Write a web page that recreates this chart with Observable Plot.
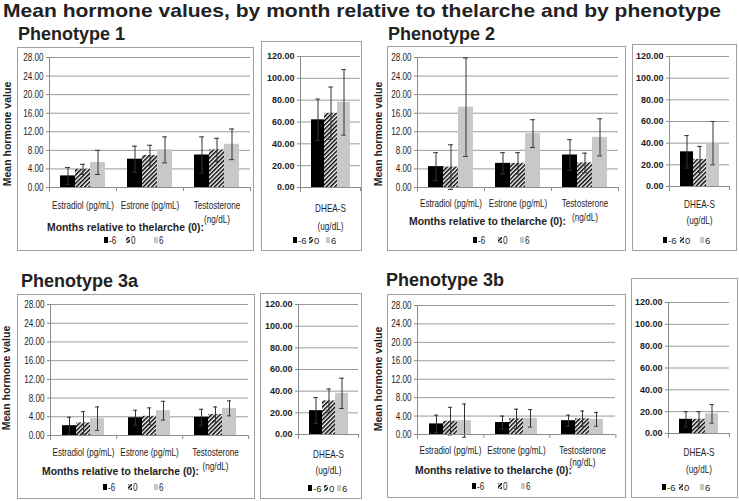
<!DOCTYPE html>
<html><head><meta charset="utf-8">
<script src="https://cdn.jsdelivr.net/npm/d3@7"></script>
<script src="https://cdn.jsdelivr.net/npm/@observablehq/plot@0.6"></script>
<style>
body{margin:0;background:#fff;}
#root{position:relative;width:739px;height:501px;overflow:hidden;background:#fff;}
</style></head><body>
<svg width="0" height="0" style="position:absolute"><defs>
<pattern id="hatch" patternUnits="userSpaceOnUse" width="3" height="3" patternTransform="rotate(45)">
<rect width="3" height="3" fill="#fff"/><rect width="1.5" height="3" fill="#000"/></pattern>
</defs></svg>
<div id="root"></div>
<script>
// ---------- data ----------
const chartTitle = "Mean hormone values, by month relative to thelarche and by phenotype";
const phenotypes = ["Phenotype 1", "Phenotype 2", "Phenotype 3a", "Phenotype 3b"];
const hormones = ["Estradiol (pg/mL)", "Estrone (pg/mL)", "Testosterone\n(ng/dL)"];
const dheaCats = ["DHEA-S\n(ug/dL)"];
const months = ["-6", "0", "6"];
const legendTitle = "Months relative to thelarche (0):";
const yLabel = "Mean hormone value";
const mainTicks = [0, 4, 8, 12, 16, 20, 24, 28];
const dheaTicks = [0, 20, 40, 60, 80, 100, 120];

// rows: hormones; columns: months -6, 0, 6
const p1Means = [[2.5, 3.9, 5.4], [6.1, 6.9, 8.1], [7.0, 8.1, 9.3]];
const p1Errors = [[1.8, 1.1, 2.6], [2.8, 2.2, 2.8], [3.9, 2.5, 3.3]];
const p1DheaMeans = [[62, 68, 78]];
const p1DheaErrors = [[19, 24, 30]];

const p2Means = [[4.5, 4.4, 17.3], [5.2, 5.2, 11.6], [7.0, 5.3, 10.8]];
const p2Errors = [[3.0, 4.8, 10.6], [2.3, 2.3, 3.0], [3.3, 2.1, 4.0]];
const p2DheaMeans = [[32, 25, 40]];
const p2DheaErrors = [[15, 12, 20]];

const p3aMeans = [[2.1, 2.7, 3.6], [3.8, 4.1, 5.3], [3.9, 4.5, 5.8]];
const p3aErrors = [[1.8, 2.4, 2.5], [1.6, 1.8, 2.0], [1.7, 1.6, 1.6]];
const p3aDheaMeans = [[22, 31, 38]];
const p3aDheaErrors = [[12, 11, 14]];

const p3bMeans = [[2.3, 2.9, 3.0], [2.6, 3.4, 3.5], [3.0, 3.4, 3.3]];
const p3bErrors = [[1.9, 3.0, 3.6], [1.4, 2.1, 1.9], [1.2, 1.7, 1.5]];
const p3bDheaMeans = [[13, 13, 18]];
const p3bDheaErrors = [[7, 7, 8.5]];

// ---------- layout (pixel positions, styles) ----------
const sans = '"Liberation Sans",Arial,sans-serif';
const gridC = "#9a9a9a", axisC = "#8c8c8c", boxC = "#a0a0a0", textC = "#1e1e1e";
const fills = ["#000000", "url(#hatch)", "#c8c8c8"];
const narrowFactor = 0.74;

const lay = [
 { title:[18,40], ylab:[7,134],
   box:[17,47,253,250], frame:[49,57,250,187], pad:10.6, lh:1.35,
   leg:{tx:47, ty:231, iy:244, sw:[104,126,154]},
   dbox:[261,41,361,250], dframe:[300,56,360,187], dpad:12.2, dlh:1.6,
   dleg:{iy:244, sw:[293,309,326]} },
 { title:[388,40], ylab:[378,134],
   box:[387,46,625,250], frame:[417,57,618,187], pad:9.2, lh:1.3,
   leg:{tx:409, ty:225, iy:244, sw:[473,498,520]},
   dbox:[632,44,736,250], dframe:[669,56,729,186], dpad:10.2, dlh:1.45,
   dleg:{iy:244, sw:[663,680,700]} },
 { title:[21,287], ylab:[6,378],
   box:[17,294,254,498], frame:[49,304,248,435], pad:10.2, lh:1.3,
   leg:{tx:42, ty:475, iy:491, sw:[103,128,154]},
   dbox:[260,293,361,498], dframe:[298,304,358,434], dpad:12.2, dlh:1.45,
   dleg:{iy:492, sw:[308,324,337]} },
 { title:[386,286], ylab:[378,379],
   box:[387,294,625,497], frame:[416,305,616,434], pad:11.2, lh:1.1,
   leg:{tx:415, ty:474, iy:490, sw:[472,498,521]},
   dbox:[631,278,737,497], dframe:[668,302,729,433], dpad:11.2, dlh:1.5,
   dleg:{iy:491, sw:[662,679,700]} },
];

const panels = [
  {means:p1Means, errs:p1Errors, dMeans:p1DheaMeans, dErrs:p1DheaErrors},
  {means:p2Means, errs:p2Errors, dMeans:p2DheaMeans, dErrs:p2DheaErrors},
  {means:p3aMeans, errs:p3aErrors, dMeans:p3aDheaMeans, dErrs:p3aDheaErrors},
  {means:p3bMeans, errs:p3bErrors, dMeans:p3bDheaMeans, dErrs:p3bDheaErrors},
];

const root = document.getElementById("root");
function place(node, left, top) {
  node.style.position = "absolute"; node.style.left = left + "px"; node.style.top = top + "px";
  root.appendChild(node);
}
// horizontally condense text (the reference uses a narrow face)
function condense(elems, factor) {
  elems.forEach(t => {
    const spans = t.querySelectorAll("tspan");
    const targets = spans.length ? [...spans] : [t];
    targets.forEach(el => {
      const len = el.getComputedTextLength();
      if (len > 0) { el.setAttribute("textLength", len * factor); el.setAttribute("lengthAdjust", "spacingAndGlyphs"); }
    });
  });
}

const padOuter = 0.72;
function chart(cats, means, errs, yDomain, yTicks, fr, pad, lh, opts) {
  const rows = [];
  cats.forEach((c, i) => months.forEach((m, j) => rows.push({c, m, v: means[i][j], e: errs[i][j]})));
  const [x0, y0, x1, y1] = fr;
  const L = x0 - 48, T = y0 - 8, W = x1 + 6 - L, H = y1 + 45 - T;
  const facetW = (x1 - x0) / cats.length;
  const step = facetW / (months.length + 2 * padOuter);
  const capIn = Math.max(0, (step - 5) / 2);
  const plot = Plot.plot({
    width: W, height: H,
    marginLeft: x0 - L, marginTop: y0 - T, marginRight: W - (x1 - L), marginBottom: H - (y1 - T),
    style: {fontFamily: sans, fontSize: "11px", color: textC, background: "transparent", overflow: "visible"},
    fx: {domain: cats, padding: 0, label: null},
    x: {domain: months, paddingInner: 0, paddingOuter: padOuter, axis: null},
    y: {domain: yDomain, label: null},
    color: {type: "ordinal", domain: months, range: fills},
    marks: [
      Plot.gridY(yTicks, {stroke: gridC, strokeOpacity: 1}),
      Plot.barY(rows, {fx: "c", x: "m", y: "v", fill: "m"}),
      Plot.ruleX(rows, {fx: "c", x: "m", y1: d => d.v - d.e, y2: d => d.v + d.e, stroke: "#333"}),
      Plot.tickY(rows, {fx: "c", x: "m", y: d => d.v + d.e, stroke: "#333", insetLeft: capIn, insetRight: capIn}),
      Plot.tickY(rows, {fx: "c", x: "m", y: d => d.v - d.e, stroke: "#333", insetLeft: capIn, insetRight: capIn}),
      Plot.ruleY([yDomain[0]], {stroke: axisC}),
      Plot.frame({anchor: "left", facetAnchor: "left", stroke: axisC, insetBottom: -4}),
      Plot.axisY(yTicks, {tickFormat: d => d.toFixed(2), tickSize: 3, tickPadding: 3, stroke: axisC, label: null,
        fontSize: opts.tickSize, fontWeight: opts.tickWeight}),
      Plot.axisFx({anchor: "bottom", text: null, tickSize: 4, dx: facetW / 2, stroke: axisC, label: null}),
      Plot.axisFx({anchor: "bottom", tickSize: 0, tickPadding: pad, lineHeight: lh, label: null, fontSize: 11})
    ]
  });
  place(plot, L, T);
  const texts = opts.condenseAll ? plot.querySelectorAll("text")
    : plot.querySelectorAll('g[aria-label="fx-axis tick label"] text');
  condense(texts, narrowFactor);
}

panels.forEach((p, k) => {
  const l = lay[k];
  chart(hormones, p.means, p.errs, [0, 28], mainTicks, l.frame, l.pad, l.lh, {tickSize: 11, tickWeight: "normal", condenseAll: true});
  chart(dheaCats, p.dMeans, p.dErrs, [0, 120], dheaTicks, l.dframe, l.dpad, l.dlh, {tickSize: 9, tickWeight: "bold", condenseAll: false});
});

// overlay: boxes, titles, legends
const svg = d3.create("svg").attr("width", 739).attr("height", 501)
  .style("position", "absolute").style("left", "0px").style("top", "0px")
  .style("font-family", sans).attr("fill", textC);
root.appendChild(svg.node());

svg.append("text").attr("x", 3).attr("y", 17).attr("font-size", 19).attr("font-weight", "bold")
  .attr("fill", "#222").attr("textLength", 718).attr("lengthAdjust", "spacingAndGlyphs").text(chartTitle);

const narrowTexts = [];
function legendItems(sw, iy, isNarrow) {
  months.forEach((m, j) => {
    svg.append("rect").attr("x", sw[j]).attr("y", iy - 7).attr("width", 4).attr("height", 6).attr("fill", fills[j]);
    const t = svg.append("text").attr("x", sw[j] + 5).attr("y", iy).attr("font-size", isNarrow ? 11 : 9.5).text(m);
    if (isNarrow) narrowTexts.push(t.node());
  });
}

panels.forEach((p, k) => {
  const l = lay[k];
  for (const b of [l.box, l.dbox]) {
    svg.append("rect").attr("x", b[0] + 0.5).attr("y", b[1] + 0.5).attr("width", b[2] - b[0]).attr("height", b[3] - b[1])
      .attr("fill", "none").attr("stroke", boxC);
  }
  svg.append("text").attr("x", l.title[0]).attr("y", l.title[1]).attr("font-size", 18).attr("font-weight", "bold")
    .attr("fill", "#222").text(phenotypes[k]);
  svg.append("text").attr("transform", `translate(${l.ylab[0] + 3.5},${l.ylab[1]}) rotate(-90)`)
    .attr("text-anchor", "middle").attr("font-size", 10.5).attr("font-weight", "bold").text(yLabel);
  svg.append("text").attr("x", l.leg.tx).attr("y", l.leg.ty).attr("font-size", 10.4).attr("font-weight", "bold").text(legendTitle);
  legendItems(l.leg.sw, l.leg.iy, true);
  legendItems(l.dleg.sw, l.dleg.iy, false);
});
condense(narrowTexts, narrowFactor);
</script>
</body></html>
